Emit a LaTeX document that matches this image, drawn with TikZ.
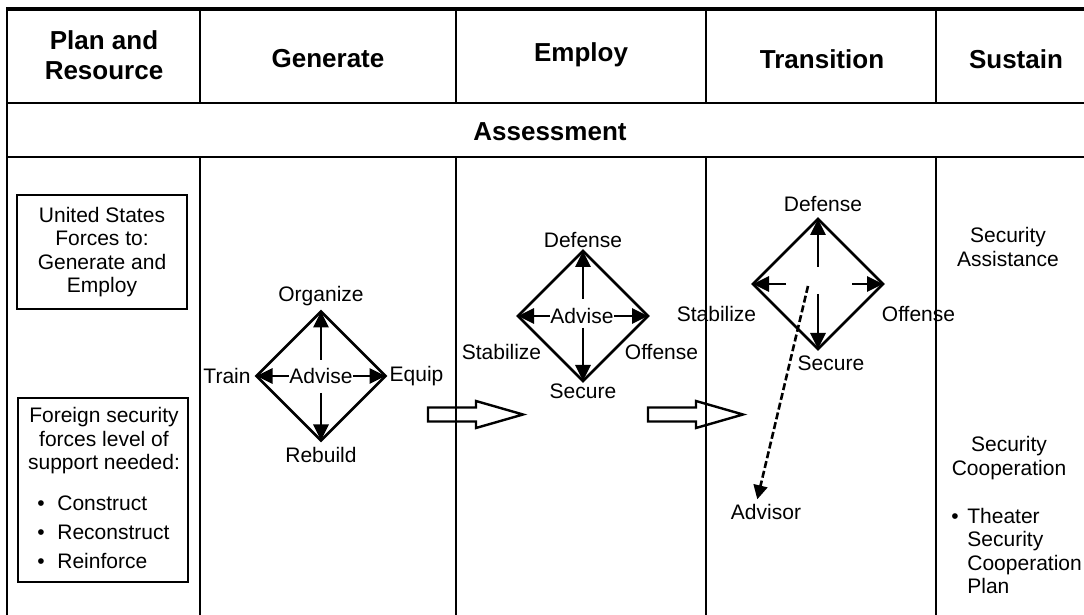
\documentclass[tikz,border=0pt]{standalone}
\usepackage{fontspec}
\setmainfont{Liberation Sans}
\usetikzlibrary{arrows.meta}
\begin{document}
\begin{tikzpicture}[x=0.5pt,y=-0.5pt,
  rule/.style={line width=1.3pt},
  hdr/.style={font=\bfseries\fontsize{13}{15}\selectfont,align=center,inner sep=0pt},
  lbl/.style={font=\fontsize{10.5}{11.75}\selectfont,align=center,inner sep=0pt},
  boxed/.style={lbl,draw,line width=1.2pt,minimum width=85pt},
  dia/.style={line width=1.4pt,line join=miter},
  arr/.style={line width=1.4pt,-{Triangle[length=8pt,width=7.5pt]}},
  darr/.style={line width=1.3pt,dash pattern=on 3.5pt off 1.5pt,-{Triangle[length=7pt,width=7pt]}},
  blk/.style={line width=1.2pt,line join=miter},
]
\useasboundingbox (0,0) rectangle (1084,615);
% table rules
\draw[line width=1.6pt] (6,9) -- (1084,9);
\draw[rule] (7,8) -- (7,615);
\draw[rule] (7,103) -- (1084,103);
\draw[rule] (7,157) -- (1084,157);
\foreach \c in {200,456,706,936}{
  \draw[rule] (\c,9) -- (\c,103);
  \draw[rule] (\c,157) -- (\c,615);
}
% headers
\node[hdr] (hplan) at (104,55.5) {Plan and\\Resource};
\node[hdr] (hgen) at (328,59) {Generate};
\node[hdr] (hemp) at (581,55) {Employ};
\node[hdr] (htra) at (822,59) {Transition};
\node[hdr] (hsus) at (1016,59) {Sustain};
\node[hdr] (hass) at (550,132) {Assessment};
% plan and resource column
\node[boxed,minimum height=57pt] (usf) at (102,252) {United States\\Forces to:\\Generate and\\Employ};
\node[draw,line width=1.2pt,minimum width=85pt,minimum height=92pt,inner sep=0pt] (fsf) at (103,490) {};
\node[lbl] (fsft) at (104,441) {Foreign security\\forces level of\\support needed:};
\node[lbl,anchor=north west,align=left,font=\fontsize{10.5}{14.5}\selectfont] (fsfl) at (37,495)
  {\textbullet\hspace{6.3pt}Construct\\\textbullet\hspace{6.3pt}Reconstruct\\\textbullet\hspace{6.3pt}Reinforce};
% generate diamond
\coordinate (gc) at (321,376);
\coordinate (gt) at (321,311.5);
\coordinate (gb) at (321,440.5);
\coordinate (gl) at (256.5,376);
\coordinate (gr) at (385.5,376);
\draw[dia] (gt) -- (gr) -- (gb) -- (gl) -- cycle;
\node[lbl] (gadv) at (321,376) {Advise};
\draw[arr] ([yshift=8pt]gc) -- (gt);
\draw[arr] ([yshift=-8.5pt]gc) -- (gb);
\draw[arr] (gadv.west) -- (gl);
\draw[arr] (gadv.east) -- (gr);
\node[lbl] (gorg) at (321,296) {Organize};
\node[lbl] (greb) at (321,454.5) {Rebuild};
\node[lbl] (gtrn) at (227,376) {Train};
\node[lbl] (gequ) at (416.5,376) {Equip};
% employ diamond
\coordinate (ec) at (583,316);
\coordinate (et) at (583,251);
\coordinate (eb) at (583,381);
\coordinate (el) at (518,316);
\coordinate (er) at (648,316);
\draw[dia] (et) -- (er) -- (eb) -- (el) -- cycle;
\node[lbl] (eadv) at (582,316) {Advise};
\draw[arr] ([yshift=8.5pt]ec) -- (et);
\draw[arr] ([yshift=-6pt]ec) -- (eb);
\draw[arr] (eadv.west) -- (el);
\draw[arr] (eadv.east) -- (er);
\node[lbl] (edef) at (583,240.5) {Defense};
\node[lbl] (esec) at (583,391) {Secure};
\node[lbl] (esta) at (501.5,352) {Stabilize};
\node[lbl] (eoff) at (661.5,352) {Offense};
% transition diamond
\coordinate (tc) at (818,284);
\coordinate (tt) at (818,219);
\coordinate (tb) at (818,349);
\coordinate (tl) at (753,284);
\coordinate (tr) at (883,284);
\draw[dia] (tt) -- (tr) -- (tb) -- (tl) -- cycle;
\draw[arr] ([yshift=8.5pt]tc) -- (tt);
\draw[arr] ([yshift=-5pt]tc) -- (tb);
\draw[arr] ([xshift=-16pt]tc) -- (tl);
\draw[arr] ([xshift=17pt]tc) -- (tr);
\node[lbl] (tdef) at (823,204) {Defense};
\node[lbl] (tsec) at (831,363.5) {Secure};
\node[lbl] (tsta) at (716.5,314) {Stabilize};
\node[lbl] (toff) at (918.5,314.5) {Offense};
\node[lbl] (tadv) at (766,511.5) {Advisor};
\coordinate (ds) at (808,286);
\coordinate (de) at (757.3,499.3);
\draw[darr] (ds) -- (de);
% sustain column
\node[lbl] (sa) at (1008,247) {Security\\Assistance};
\node[lbl] (sc) at (1009,458) {Security\\Cooperation};
\node[lbl,anchor=north west,align=left] (tscp) at (951,507.5)
  {\textbullet\hspace{4.3pt}Theater\\\hspace*{8pt}Security\\\hspace*{8pt}Cooperation\\\hspace*{8pt}Plan};
% block arrows
\draw[blk] (428,407.5) -- (476,407.5) -- (476,401) -- (523,414.5) -- (476,428) -- (476,421.5) -- (428,421.5) -- cycle;
\draw[blk] (648,407.5) -- (696,407.5) -- (696,401) -- (743,414.5) -- (696,428) -- (696,421.5) -- (648,421.5) -- cycle;
\end{tikzpicture}
\end{document}
